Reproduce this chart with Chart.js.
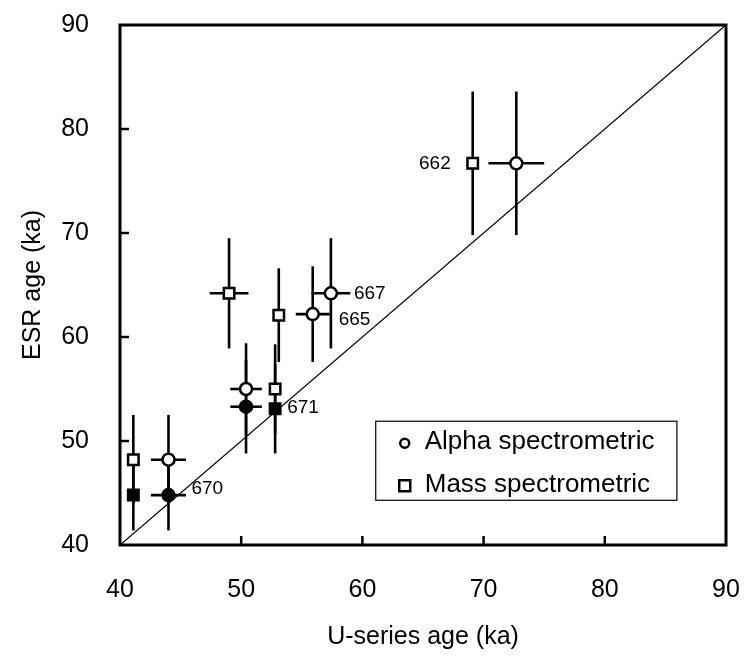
<!DOCTYPE html>
<html>
<head>
<meta charset="utf-8">
<script src="https://cdn.jsdelivr.net/npm/chart.js@4.4.1/dist/chart.umd.min.js"></script>
<style>
  html, body { margin: 0; padding: 0; background: #fff; }
  #wrap { width: 747px; height: 662px; }
</style>
</head>
<body>
<div id="wrap"><canvas id="c" width="747" height="662"></canvas></div>
<script>
// ---- Data ----
const axisTicks = [40, 50, 60, 70, 80, 90];

// Alpha spectrometric, open circles
const alphaOpenX    = [72.7, 57.4, 55.9, 50.4, 44.0];
const alphaOpenY    = [76.7, 64.2, 62.2, 55.0, 48.2];
const alphaOpenXErr = [2.3, 1.6, 1.4, 1.3, 1.45];
const alphaOpenYErr = [6.9, 5.3, 4.6, 4.4, 4.3];

// Alpha spectrometric, filled circles
const alphaFilledX    = [44.0, 50.4];
const alphaFilledY    = [44.8, 53.3];
const alphaFilledXErr = [1.45, 1.3];
const alphaFilledYErr = [3.4, 4.5];

// Mass spectrometric, open squares
const massOpenX    = [69.1, 49.0, 53.1, 52.8, 41.1];
const massOpenY    = [76.7, 64.2, 62.1, 55.0, 48.2];
const massOpenXErr = [0, 1.6, 0, 0, 0];
const massOpenYErr = [6.9, 5.3, 4.5, 4.3, 4.3];

// Mass spectrometric, filled squares
const massFilledX    = [52.8, 41.1];
const massFilledY    = [53.1, 44.8];
const massFilledXErr = [0, 0];
const massFilledYErr = [4.3, 3.4];

// 1:1 line
const oneToOneX = [40, 90];
const oneToOneY = [40, 90];

// Sample labels
const sampleLabels = ['662', '667', '665', '671', '670'];

const legendLabels = ['Alpha spectrometric', 'Mass spectrometric'];

// ---- Build library structures ----
function pts(xs, ys, xe, ye) {
  return xs.map((x, i) => ({ x: x, y: ys[i], xerr: xe ? xe[i] : 0, yerr: ye ? ye[i] : 0 }));
}

const FONT = '"Liberation Sans", Arial, Helvetica, sans-serif';

const datasets = [
  { label: 'alphaOpen', data: pts(alphaOpenX, alphaOpenY, alphaOpenXErr, alphaOpenYErr),
    pointStyle: 'circle', pointRadius: 6, backgroundColor: '#fff', borderColor: '#000', borderWidth: 2.5, order: 1 },
  { label: 'alphaFilled', data: pts(alphaFilledX, alphaFilledY, alphaFilledXErr, alphaFilledYErr),
    pointStyle: 'circle', pointRadius: 6, backgroundColor: '#000', borderColor: '#000', borderWidth: 2.5, order: 1 },
  { label: 'massOpen', data: pts(massOpenX, massOpenY, massOpenXErr, massOpenYErr),
    pointStyle: 'rect', pointRadius: 7.4, backgroundColor: '#fff', borderColor: '#000', borderWidth: 2.5, order: 1 },
  { label: 'massFilled', data: pts(massFilledX, massFilledY, massFilledXErr, massFilledYErr),
    pointStyle: 'rect', pointRadius: 7.4, backgroundColor: '#000', borderColor: '#000', borderWidth: 2.5, order: 1 },
  { label: 'oneToOne', type: 'line', data: pts(oneToOneX, oneToOneY),
    borderColor: '#000', borderWidth: 1.3, pointRadius: 0, fill: false, order: 5 }
];

const annotations = [
  { text: sampleLabels[0], ds: 2, i: 0, dx: -22, dy: 0, align: 'right' },
  { text: sampleLabels[1], ds: 0, i: 1, dx: 23, dy: 0, align: 'left' },
  { text: sampleLabels[2], ds: 0, i: 2, dx: 26, dy: 6, align: 'left' },
  { text: sampleLabels[3], ds: 3, i: 0, dx: 12, dy: -1, align: 'left' },
  { text: sampleLabels[4], ds: 1, i: 0, dx: 23, dy: -6, align: 'left' }
];

const decorPlugin = {
  id: 'decor',
  beforeDatasetsDraw(chart) {
    const ctx = chart.ctx, xs = chart.scales.x, ys = chart.scales.y;
    ctx.save();
    ctx.strokeStyle = '#000';
    ctx.lineWidth = 2.6;
    ctx.lineCap = 'butt';
    datasets.forEach((ds) => {
      if (!ds.pointStyle) return;
      ds.data.forEach((p) => {
        const px = xs.getPixelForValue(p.x), py = ys.getPixelForValue(p.y);
        if (p.yerr) {
          ctx.beginPath();
          ctx.moveTo(px, ys.getPixelForValue(p.y - p.yerr));
          ctx.lineTo(px, ys.getPixelForValue(p.y + p.yerr));
          ctx.stroke();
        }
        if (p.xerr) {
          ctx.beginPath();
          ctx.moveTo(xs.getPixelForValue(p.x - p.xerr), py);
          ctx.lineTo(xs.getPixelForValue(p.x + p.xerr), py);
          ctx.stroke();
        }
      });
    });
    ctx.restore();
  },
  afterDatasetsDraw(chart) {
    const ctx = chart.ctx, a = chart.chartArea, xs = chart.scales.x, ys = chart.scales.y;
    ctx.save();
    // frame
    ctx.strokeStyle = '#000';
    ctx.lineWidth = 3;
    ctx.strokeRect(a.left, a.top, a.right - a.left, a.bottom - a.top);
    // inward ticks
    ctx.lineWidth = 2.5;
    const tl = 9;
    xs.ticks.forEach((t) => {
      if (t.value <= xs.min || t.value >= xs.max) return;
      const px = xs.getPixelForValue(t.value);
      ctx.beginPath(); ctx.moveTo(px, a.bottom); ctx.lineTo(px, a.bottom - tl); ctx.stroke();
    });
    ys.ticks.forEach((t) => {
      if (t.value <= ys.min || t.value >= ys.max) return;
      const py = ys.getPixelForValue(t.value);
      ctx.beginPath(); ctx.moveTo(a.left, py); ctx.lineTo(a.left + tl, py); ctx.stroke();
    });
    // sample labels
    ctx.fillStyle = '#000';
    ctx.font = '19px ' + FONT;
    ctx.textBaseline = 'middle';
    annotations.forEach((an) => {
      const p = datasets[an.ds].data[an.i];
      ctx.textAlign = an.align;
      ctx.fillText(an.text, xs.getPixelForValue(p.x) + an.dx, ys.getPixelForValue(p.y) + an.dy);
    });
    // legend box
    const w = a.right - a.left, h = a.bottom - a.top;
    const bx = a.left + w * 0.422, by = a.top + h * 0.762;
    const bw = w * 0.497, bh = h * 0.152;
    ctx.fillStyle = '#fff';
    ctx.fillRect(bx, by, bw, bh);
    ctx.lineWidth = 1.2;
    ctx.strokeRect(bx, by, bw, bh);
    ctx.fillStyle = '#000';
    ctx.font = '26px ' + FONT;
    ctx.textAlign = 'left';
    ctx.textBaseline = 'alphabetic';
    const r1 = by + 28, r2 = by + 71;
    ctx.fillText(legendLabels[0], bx + 49, r1);
    ctx.fillText(legendLabels[1], bx + 49, r2);
    ctx.lineWidth = 2.5;
    ctx.beginPath(); ctx.arc(bx + 29, r1 - 6, 4.5, 0, Math.PI * 2); ctx.stroke();
    ctx.strokeRect(bx + 23.5, r2 - 12, 11, 11);
    ctx.restore();
  }
};

new Chart(document.getElementById('c'), {
  type: 'scatter',
  data: { datasets: datasets },
  options: {
    responsive: false,
    animation: false,
    events: [],
    layout: { padding: { left: 0, right: 21, top: 25, bottom: 0 } },
    plugins: { legend: { display: false }, tooltip: { enabled: false } },
    scales: {
      x: {
        type: 'linear', min: 40, max: 90,
        afterBuildTicks: (s) => { s.ticks = axisTicks.map(v => ({ value: v })); },
        afterFit: (s) => { s.height = 117; s.paddingLeft = 0; s.paddingRight = 0; },
        grid: { display: false, drawTicks: false },
        border: { display: false },
        ticks: { color: '#000', padding: 30, font: { family: FONT, size: 25 } },
        title: { display: true, text: 'U-series age (ka)', color: '#000',
                 font: { family: FONT, size: 25 }, padding: { top: 0, bottom: 10 } }
      },
      y: {
        type: 'linear', min: 40, max: 90,
        afterBuildTicks: (s) => { s.ticks = axisTicks.map(v => ({ value: v })); },
        afterFit: (s) => { s.width = 120; s.paddingTop = 0; s.paddingBottom = 0; },
        grid: { display: false, drawTicks: false },
        border: { display: false },
        ticks: { color: '#000', padding: 31, font: { family: FONT, size: 25 } },
        title: { display: true, text: 'ESR age (ka)', color: '#000',
                 font: { family: FONT, size: 25 }, padding: { top: 18, bottom: 0 } }
      }
    }
  },
  plugins: [decorPlugin]
});
</script>
</body>
</html>
